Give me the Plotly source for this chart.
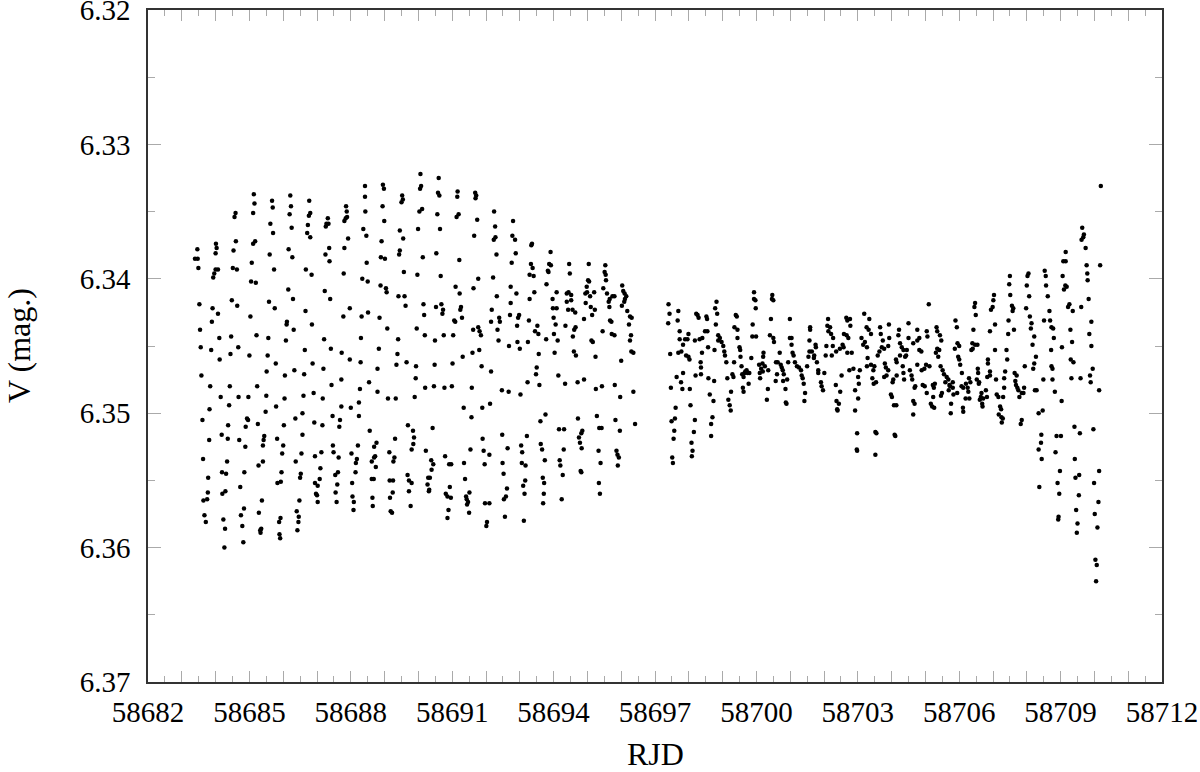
import plotly.graph_objects as go

# Light curve: time in days after RJD 58682, V magnitude.
RJD0 = 58682

# first run, part 1
days_a1 = [
    6.42, 6.95, 6.98, 3.13, 4.21, 6.42, 7.52, 7.54, 7.50, 3.67,
    3.69, 4.77, 3.15, 4.23, 5.86, 6.94, 5.88, 6.43, 2.59, 2.56,
    3.11, 4.19, 4.80, 4.76, 5.32, 5.85, 5.89, 5.81, 6.99, 3.62,
    4.25, 4.73, 5.28, 5.34, 5.26, 6.37, 7.45, 3.70, 4.71, 6.46,
    4.80, 5.92, 7.55, 2.60, 3.17, 3.11, 2.01, 2.03, 6.91, 5.36,
    5.81, 1.46, 2.53, 4.16, 7.45, 7.43, 3.60, 2.00, 5.25, 4.27,
    6.89, 7.01, 1.39, 1.47, 5.37, 3.07, 6.47, 1.49, 2.00, 2.07,
    1.96, 2.51, 2.63, 3.73, 4.67, 4.84, 5.79, 7.57, 1.93, 3.05,
    3.19, 6.34, 6.50, 6.88, 7.04, 7.06, 4.15, 5.23, 4.29, 5.39,
    7.41, 7.59, 1.52, 1.91, 2.07, 2.48, 2.64, 3.58, 3.75, 4.66,
    7.62, 5.97, 5.78, 6.32, 6.51, 6.85, 3.03, 1.89, 4.11, 4.10,
    4.85, 7.08, 1.54, 4.31, 2.11, 2.46, 3.21, 3.56, 4.08, 5.21,
    6.30, 7.40, 1.56, 1.87, 2.67, 2.44, 3.00, 3.54, 4.64, 5.41,
    5.73, 6.83, 7.38, 2.12, 3.78, 4.87, 5.97, 6.29, 6.79, 7.35,
    7.65, 5.19, 3.51, 4.33, 4.62, 4.05, 1.58, 1.84, 2.42, 3.23,
    5.43, 5.72, 6.54, 6.27, 6.79, 2.15, 2.68, 2.97, 3.50, 4.04,
    4.60, 4.90, 5.17, 7.10, 7.33, 1.82, 2.40, 3.79, 3.48, 4.57,
    5.72, 6.00, 6.24, 6.24, 2.93, 2.96, 1.61, 4.36, 4.92, 5.16,
    5.46, 5.68, 5.66, 2.37, 2.89, 3.25, 4.02, 6.56, 2.18, 2.36,
    2.70, 2.88, 3.44, 3.42, 3.40, 3.82, 4.00, 4.57, 1.81, 7.31,
    6.76, 6.69, 6.21, 5.47, 1.63, 2.34, 3.27, 3.40, 3.97, 4.54,
    4.37, 4.94, 5.13, 5.49, 5.64, 6.02, 6.18, 6.15, 6.72, 6.69,
    6.62, 6.74, 7.14, 7.29, 7.26, 1.78, 2.19, 2.31, 2.85, 3.95,
    4.52, 4.50, 5.10, 5.62, 5.54, 6.14, 6.62, 6.68, 7.15, 7.25,
    7.68, 7.72, 1.77, 1.64, 1.75, 2.20, 2.29, 2.73, 3.37, 3.83,
    3.93, 4.94, 5.02, 5.08, 4.97, 5.00, 5.02, 4.48, 5.60, 5.55,
    5.58, 6.04, 6.05, 6.09, 6.08, 6.64, 6.65, 7.16, 7.24, 7.72,
    7.18, 7.22, 1.67, 1.71, 2.23, 2.28, 2.26, 2.75, 2.84, 2.79,
    2.82, 3.28, 3.32, 3.35, 3.33, 3.88, 3.92, 3.89, 3.91, 4.40,
    4.46, 4.45, 4.42, 7.69,
]
vmag_a1 = [
    6.3331, 6.3330, 6.3333, 6.3337, 6.3338, 6.3339, 6.3338, 6.3341, 6.3343, 6.3342,
    6.3347, 6.3342, 6.3344, 6.3346, 6.3346, 6.3346, 6.3350, 6.3350, 6.3351, 6.3354,
    6.3351, 6.3352, 6.3351, 6.3353, 6.3355, 6.3355, 6.3354, 6.3357, 6.3357, 6.3359,
    6.3362, 6.3360, 6.3359, 6.3359, 6.3361, 6.3363, 6.3364, 6.3366, 6.3366, 6.3368,
    6.3369, 6.3370, 6.3370, 6.3372, 6.3372, 6.3374, 6.3374, 6.3377, 6.3372, 6.3377,
    6.3377, 6.3378, 6.3379, 6.3378, 6.3379, 6.3382, 6.3382, 6.3381, 6.3382, 6.3384,
    6.3384, 6.3385, 6.3385, 6.3385, 6.3387, 6.3388, 6.3388, 6.3392, 6.3393, 6.3393,
    6.3396, 6.3392, 6.3393, 6.3393, 6.3393, 6.3397, 6.3396, 6.3395, 6.3399, 6.3402,
    6.3403, 6.3400, 6.3402, 6.3405, 6.3407, 6.3410, 6.3408, 6.3409, 6.3415, 6.3415,
    6.3413, 6.3413, 6.3419, 6.3422, 6.3426, 6.3416, 6.3420, 6.3417, 6.3422, 6.3424,
    6.3420, 6.3422, 6.3428, 6.3428, 6.3425, 6.3429, 6.3428, 6.3432, 6.3432, 6.3434,
    6.3434, 6.3437, 6.3438, 6.3438, 6.3444, 6.3443, 6.3442, 6.3444, 6.3446, 6.3445,
    6.3444, 6.3445, 6.3451, 6.3453, 6.3451, 6.3456, 6.3457, 6.3457, 6.3453, 6.3452,
    6.3455, 6.3452, 6.3456, 6.3460, 6.3463, 6.3463, 6.3460, 6.3462, 6.3467, 6.3464,
    6.3462, 6.3467, 6.3469, 6.3468, 6.3471, 6.3472, 6.3472, 6.3480, 6.3480, 6.3480,
    6.3479, 6.3475, 6.3477, 6.3482, 6.3484, 6.3488, 6.3488, 6.3488, 6.3487, 6.3489,
    6.3487, 6.3485, 6.3489, 6.3489, 6.3489, 6.3497, 6.3494, 6.3495, 6.3499, 6.3500,
    6.3495, 6.3496, 6.3492, 6.3502, 6.3504, 6.3505, 6.3505, 6.3504, 6.3507, 6.3509,
    6.3502, 6.3505, 6.3510, 6.3509, 6.3510, 6.3508, 6.3509, 6.3513, 6.3516, 6.3519,
    6.3520, 6.3525, 6.3517, 6.3520, 6.3524, 6.3519, 6.3524, 6.3516, 6.3520, 6.3519,
    6.3522, 6.3525, 6.3524, 6.3524, 6.3534, 6.3536, 6.3539, 6.3536, 6.3530, 6.3530,
    6.3536, 6.3532, 6.3529, 6.3529, 6.3533, 6.3530, 6.3534, 6.3537, 6.3532, 6.3533,
    6.3536, 6.3540, 6.3529, 6.3533, 6.3536, 6.3548, 6.3544, 6.3545, 6.3544, 6.3544,
    6.3545, 6.3548, 6.3541, 6.3544, 6.3546, 6.3544, 6.3549, 6.3549, 6.3550, 6.3550,
    6.3546, 6.3550, 6.3559, 6.3565, 6.3564, 6.3560, 6.3558, 6.3555, 6.3565, 6.3552,
    6.3551, 6.3552, 6.3554, 6.3549, 6.3560, 6.3561, 6.3566, 6.3565, 6.3553, 6.3559,
    6.3566, 6.3552, 6.3562, 6.3566, 6.3572, 6.3563, 6.3569, 6.3563, 6.3559, 6.3558,
    6.3573, 6.3574, 6.3576, 6.3581, 6.3579, 6.3586, 6.3600, 6.3576, 6.3571, 6.3584,
    6.3596, 6.3574, 6.3587, 6.3586, 6.3589, 6.3581, 6.3578, 6.3590, 6.3593, 6.3573,
    6.3577, 6.3581, 6.3587, 6.3509,
]

# first run, part 2
days_a2 = [
    8.06, 8.60, 8.05, 8.08, 8.58, 8.62, 9.16, 9.15, 9.68, 9.71,
    9.69, 8.03, 8.11, 8.56, 9.13, 9.19, 10.24, 9.74, 10.80, 7.99,
    8.64, 9.65, 10.27, 10.28, 10.23, 10.78, 10.86, 11.36, 11.34, 11.91,
    10.88, 8.13, 8.53, 9.21, 10.31, 10.76, 11.33, 11.38, 11.87, 11.92,
    12.46, 13.04, 13.53, 7.97, 8.66, 11.29, 11.41, 11.83, 11.85, 12.48,
    13.51, 13.54, 9.10, 9.63, 9.77, 10.21, 10.73, 11.79, 13.02, 13.05,
    13.55, 14.03, 13.47, 9.22, 10.32, 10.90, 11.43, 11.29, 12.09, 12.39,
    12.44, 12.52, 12.94, 12.99, 12.98, 13.20, 13.08, 13.58, 13.66, 13.63,
    13.74, 13.80, 14.06, 14.10, 14.11, 14.15, 14.09, 14.02, 11.97, 8.15,
    8.52, 8.68, 8.73, 9.26, 9.24, 10.73, 10.17, 10.39, 10.41, 10.98,
    10.95, 10.92, 10.71, 11.27, 11.52, 11.98, 12.09, 12.39, 12.43, 12.52,
    12.56, 12.64, 12.95, 13.10, 13.14, 13.22, 12.90, 13.65, 14.18, 14.26,
    14.31, 13.67, 13.71, 14.23, 8.17, 8.71, 9.06, 9.09, 9.29, 10.15,
    12.00, 12.06, 7.95, 8.19, 8.49, 8.75, 9.03, 9.62, 9.77, 9.81,
    9.85, 10.34, 10.37, 10.68, 10.93, 11.00, 11.24, 11.45, 11.55, 11.78,
    12.01, 12.12, 12.35, 12.57, 12.61, 12.65, 13.12, 13.16, 13.45, 13.72,
    13.80, 14.29, 14.26, 9.60, 9.80, 9.31, 11.56, 12.03, 12.60, 12.66,
    13.24, 14.00, 14.30, 14.36, 7.93, 8.48, 9.01, 9.87, 10.15, 11.50,
    11.48, 7.92, 8.20, 8.46, 8.77, 8.99, 9.58, 11.58, 11.23, 12.14,
    12.34, 12.71, 12.90, 13.25, 13.43, 13.81, 14.36, 7.89, 10.47, 10.67,
    11.02, 13.97, 9.34, 9.89, 10.12, 9.57, 11.61, 11.76, 12.72, 13.28,
    13.35, 13.42, 13.83, 13.96, 14.41, 8.42, 7.84, 7.87, 7.85, 7.80,
    8.22, 9.90, 10.48, 11.21, 12.16, 12.31, 12.85, 12.82, 12.75, 12.78,
    12.83, 9.54, 9.93, 10.10, 10.64, 11.04, 11.07, 11.62, 11.66, 12.30,
    13.33, 13.86, 13.89, 13.93, 8.79, 8.38, 8.44, 8.39, 8.91, 8.97,
    9.35, 9.96, 10.49, 10.52, 11.06, 11.17, 11.74, 12.18, 12.20, 12.27,
    12.80, 12.82, 13.39, 13.90, 7.80, 8.29, 8.34, 8.27, 8.32, 8.31,
    8.93, 8.81, 8.86, 8.96, 9.38, 9.51, 9.41, 9.43, 9.47, 9.44,
    9.50, 9.97, 10.10, 10.62, 10.59, 10.53, 11.16, 11.10, 11.14, 11.68,
    11.72, 11.71, 11.69, 12.24, 13.34, 13.37, 8.89, 8.86, 10.03, 10.01,
    10.56, 11.12, 7.77,
]
vmag_a2 = [
    6.3322, 6.3325, 6.3333, 6.3331, 6.3336, 6.3338, 6.3335, 6.3339, 6.3336, 6.3338,
    6.3340, 6.3350, 6.3348, 6.3352, 6.3354, 6.3352, 6.3350, 6.3356, 6.3357, 6.3363,
    6.3363, 6.3368, 6.3361, 6.3369, 6.3371, 6.3368, 6.3371, 6.3374, 6.3375, 6.3380,
    6.3381, 6.3384, 6.3381, 6.3386, 6.3382, 6.3388, 6.3389, 6.3392, 6.3389, 6.3390,
    6.3389, 6.3389, 6.3390, 6.3397, 6.3398, 6.3397, 6.3398, 6.3394, 6.3395, 6.3396,
    6.3395, 6.3397, 6.3406, 6.3407, 6.3400, 6.3399, 6.3406, 6.3404, 6.3401, 6.3402,
    6.3401, 6.3405, 6.3407, 6.3411, 6.3413, 6.3411, 6.3410, 6.3415, 6.3410, 6.3411,
    6.3410, 6.3412, 6.3411, 6.3410, 6.3406, 6.3410, 6.3413, 6.3411, 6.3415, 6.3417,
    6.3413, 6.3413, 6.3409, 6.3411, 6.3415, 6.3413, 6.3417, 6.3420, 6.3415, 6.3419,
    6.3421, 6.3419, 6.3423, 6.3421, 6.3423, 6.3418, 6.3423, 6.3429, 6.3432, 6.3427,
    6.3429, 6.3435, 6.3427, 6.3431, 6.3435, 6.3422, 6.3422, 6.3417, 6.3423, 6.3416,
    6.3423, 6.3425, 6.3418, 6.3421, 6.3427, 6.3423, 6.3430, 6.3421, 6.3424, 6.3428,
    6.3429, 6.3431, 6.3432, 6.3434, 6.3427, 6.3426, 6.3431, 6.3432, 6.3429, 6.3432,
    6.3429, 6.3434, 6.3437, 6.3442, 6.3446, 6.3442, 6.3442, 6.3438, 6.3436, 6.3439,
    6.3442, 6.3438, 6.3446, 6.3450, 6.3447, 6.3452, 6.3447, 6.3439, 6.3441, 6.3445,
    6.3441, 6.3446, 6.3435, 6.3443, 6.3438, 6.3436, 6.3446, 6.3447, 6.3439, 6.3441,
    6.3442, 6.3442, 6.3446, 6.3455, 6.3453, 6.3458, 6.3456, 6.3455, 6.3454, 6.3457,
    6.3458, 6.3461, 6.3454, 6.3455, 6.3465, 6.3464, 6.3463, 6.3465, 6.3469, 6.3466,
    6.3471, 6.3474, 6.3481, 6.3480, 6.3481, 6.3480, 6.3481, 6.3479, 6.3477, 6.3472,
    6.3478, 6.3477, 6.3475, 6.3482, 6.3480, 6.3479, 6.3484, 6.3488, 6.3483, 6.3484,
    6.3486, 6.3488, 6.3496, 6.3496, 6.3493, 6.3503, 6.3506, 6.3501, 6.3504, 6.3502,
    6.3511, 6.3511, 6.3505, 6.3513, 6.3508, 6.3511, 6.3513, 6.3518, 6.3523, 6.3527,
    6.3528, 6.3519, 6.3516, 6.3517, 6.3512, 6.3512, 6.3513, 6.3515, 6.3518, 6.3522,
    6.3526, 6.3527, 6.3528, 6.3531, 6.3526, 6.3524, 6.3529, 6.3523, 6.3527, 6.3527,
    6.3528, 6.3528, 6.3531, 6.3533, 6.3532, 6.3535, 6.3538, 6.3542, 6.3538, 6.3538,
    6.3537, 6.3538, 6.3537, 6.3545, 6.3537, 6.3539, 6.3535, 6.3535, 6.3539, 6.3546,
    6.3543, 6.3544, 6.3537, 6.3539, 6.3552, 6.3548, 6.3548, 6.3553, 6.3557, 6.3558,
    6.3555, 6.3560, 6.3562, 6.3563, 6.3549, 6.3559, 6.3562, 6.3564, 6.3566, 6.3568,
    6.3574, 6.3567, 6.3567, 6.3556, 6.3562, 6.3564, 6.3550, 6.3554, 6.3560, 6.3548,
    6.3552, 6.3560, 6.3567, 6.3564, 6.3552, 6.3560, 6.3572, 6.3578, 6.3581, 6.3584,
    6.3577, 6.3580, 6.3569,
]

# second run, part 1
days_b1 = [
    15.40, 15.43, 15.39, 15.69, 15.67, 15.73, 15.73, 15.89, 15.96, 15.99,
    15.83, 15.78, 15.69, 15.45, 15.92, 15.99, 16.02, 15.64, 15.83, 15.77,
    15.81, 15.47, 16.03, 16.05, 15.61, 15.49, 15.59, 15.57, 15.55, 15.51,
    15.53, 16.18, 16.15, 16.08, 16.11, 16.09, 16.26, 16.29, 16.22, 16.52,
    16.54, 16.18, 16.32, 16.40, 16.48, 16.55, 16.39, 16.57, 16.76, 16.35,
    16.36, 16.36, 16.20, 16.58, 16.75, 16.62, 16.73, 16.70, 16.66, 16.66,
    16.80, 16.78, 16.82, 16.84, 16.87, 16.92, 16.87, 16.97, 17.02, 17.05,
    17.07, 17.11, 17.14, 17.29, 17.32, 17.25, 17.17, 17.21, 17.24, 17.39,
    17.42, 17.35, 17.44, 17.44, 17.50, 17.52, 17.53, 17.34, 17.56, 17.58,
    17.62, 17.67, 17.71, 17.74, 17.65, 17.60, 17.62, 17.77, 17.79, 17.85,
    17.89, 17.88, 17.99, 17.93, 17.93, 17.97, 17.98, 18.47, 18.46, 18.50,
    18.43, 18.40, 18.50, 18.52, 18.08, 18.20, 18.21, 18.18, 18.14, 18.10,
    18.11, 18.19, 18.25, 18.35, 18.34, 18.31, 18.69, 18.63, 18.58, 18.72,
    18.75, 18.78, 18.81, 18.61, 18.57, 18.79, 18.91, 18.86, 18.87, 18.89,
    18.99, 19.04, 18.99, 19.04, 18.94, 19.07, 19.10, 19.14, 19.20, 19.26,
    19.32, 19.34, 19.37, 19.40, 19.44, 19.42, 19.50, 19.54, 19.57, 19.57,
    19.59, 19.59, 19.64, 19.70, 19.75, 19.76, 19.71, 19.79, 19.83, 19.83,
    19.91, 19.93, 19.97, 20.01, 20.05, 20.07, 20.12, 20.10, 20.18, 20.13,
    20.21, 20.27, 20.26, 20.23, 20.36, 20.47, 20.55, 20.58, 20.66, 20.69,
    20.77, 20.78, 20.59, 20.67, 20.72, 20.69, 20.82, 20.75, 20.87, 20.52,
    20.35, 20.48, 20.44, 20.39, 20.40, 20.37, 20.92, 21.01, 21.06, 21.03,
    21.01, 20.92, 21.19, 21.34, 21.26, 21.32, 21.39, 21.11, 21.21, 21.16,
    21.27, 21.29, 21.27, 21.39, 21.49, 21.46, 21.43, 21.54, 21.47, 20.98,
    20.97, 20.98, 21.52, 21.55, 21.52, 21.59, 21.64,
]
vmag_b1 = [
    6.3419, 6.3426, 6.3433, 6.3424, 6.3431, 6.3439, 6.3445, 6.3445, 6.3445, 6.3441,
    6.3449, 6.3454, 6.3455, 6.3456, 6.3457, 6.3458, 6.3460, 6.3473, 6.3470, 6.3477,
    6.3482, 6.3481, 6.3482, 6.3494, 6.3496, 6.3506, 6.3504, 6.3513, 6.3519, 6.3533,
    6.3537, 6.3505, 6.3514, 6.3522, 6.3528, 6.3532, 6.3427, 6.3429, 6.3426, 6.3428,
    6.3430, 6.3446, 6.3445, 6.3444, 6.3439, 6.3439, 6.3455, 6.3451, 6.3453, 6.3462,
    6.3466, 6.3471, 6.3472, 6.3474, 6.3476, 6.3486, 6.3491, 6.3503, 6.3508, 6.3517,
    6.3434, 6.3422, 6.3417, 6.3426, 6.3442, 6.3444, 6.3446, 6.3447, 6.3450, 6.3454,
    6.3457, 6.3462, 6.3474, 6.3471, 6.3473, 6.3484, 6.3490, 6.3494, 6.3498, 6.3427,
    6.3428, 6.3436, 6.3438, 6.3444, 6.3451, 6.3453, 6.3458, 6.3462, 6.3465, 6.3471,
    6.3473, 6.3469, 6.3468, 6.3470, 6.3470, 6.3481, 6.3484, 6.3478, 6.3470, 6.3459,
    6.3434, 6.3443, 6.3443, 6.3410, 6.3415, 6.3416, 6.3422, 6.3412, 6.3415, 6.3416,
    6.3430, 6.3442, 6.3444, 6.3447, 6.3464, 6.3458, 6.3455, 6.3463, 6.3467, 6.3470,
    6.3474, 6.3469, 6.3465, 6.3468, 6.3482, 6.3490, 6.3455, 6.3462, 6.3462, 6.3464,
    6.3466, 6.3468, 6.3471, 6.3471, 6.3476, 6.3476, 6.3475, 6.3482, 6.3492, 6.3493,
    6.3430, 6.3444, 6.3444, 6.3449, 6.3462, 6.3455, 6.3457, 6.3462, 6.3465, 6.3466,
    6.3468, 6.3472, 6.3474, 6.3478, 6.3485, 6.3491, 6.3465, 6.3458, 6.3454, 6.3446,
    6.3438, 6.3436, 6.3454, 6.3459, 6.3449, 6.3451, 6.3457, 6.3462, 6.3468, 6.3470,
    6.3477, 6.3480, 6.3483, 6.3470, 6.3457, 6.3450, 6.3430, 6.3435, 6.3436, 6.3439,
    6.3441, 6.3444, 6.3450, 6.3457, 6.3454, 6.3452, 6.3449, 6.3451, 6.3429, 6.3431,
    6.3430, 6.3435, 6.3441, 6.3442, 6.3444, 6.3455, 6.3455, 6.3468, 6.3467, 6.3472,
    6.3479, 6.3484, 6.3493, 6.3497, 6.3498, 6.3491, 6.3483, 6.3473, 6.3468, 6.3478,
    6.3489, 6.3498, 6.3426, 6.3430, 6.3436, 6.3438, 6.3441, 6.3444, 6.3447, 6.3449,
    6.3451, 6.3459, 6.3465, 6.3464, 6.3465, 6.3468, 6.3474, 6.3477, 6.3478, 6.3515,
    6.3527, 6.3528, 6.3514, 6.3515, 6.3531, 6.3457, 6.3454,
]

# second run, part 2
days_b2 = [
    21.66, 21.92, 21.68, 21.74, 21.71, 21.90, 21.93, 21.78, 22.22, 22.20,
    22.25, 22.30, 22.35, 22.45, 22.25, 22.40, 22.43, 22.13, 22.15, 21.80,
    21.83, 21.78, 21.85, 21.90, 22.05, 22.03, 22.15, 22.33, 22.35, 22.37,
    22.50, 22.50, 22.64, 22.76, 22.82, 22.76, 22.82, 22.88, 22.76, 22.89,
    22.97, 23.02, 23.12, 22.54, 22.59, 22.61, 22.70, 22.68, 22.92, 22.98,
    23.04, 22.64, 22.68, 22.64, 21.98, 22.01, 22.07, 22.14, 22.09, 22.11,
    23.10, 23.04, 23.06, 23.33, 23.35, 23.43, 23.47, 23.35, 23.41, 23.31,
    23.38, 23.22, 23.25, 23.23, 23.16, 23.20, 23.26, 23.28, 23.45, 23.51,
    23.55, 23.63, 23.68, 23.59, 23.71, 23.73, 23.49, 23.46, 23.69, 23.81,
    23.81, 23.83, 23.76, 23.75, 23.89, 23.93, 23.87, 23.95, 24.00, 23.97,
    24.00, 24.03, 24.08, 24.07, 24.12, 24.20, 24.25, 24.27, 24.19, 24.30,
    24.33, 24.29, 24.11, 24.12, 23.94, 24.47, 24.45, 24.49, 24.42, 24.39,
    24.47, 24.54, 24.36, 24.40, 24.55, 24.56, 24.52, 24.58, 24.59, 24.66,
    24.64, 24.61, 24.68, 24.69, 24.79, 24.82, 24.71, 24.85, 24.85, 24.91,
    24.83, 24.91, 25.03, 25.01, 24.94, 24.99, 25.06, 24.91, 25.06, 25.09,
    25.11, 25.16, 25.30, 25.33, 25.33, 25.36, 25.21, 25.24, 25.17, 25.25,
    25.29, 25.26, 25.40, 25.42, 25.45, 25.46, 25.50, 25.48, 25.51, 25.56,
    25.60, 25.58, 25.62, 25.64, 25.70, 25.66, 25.68, 25.72, 25.75, 25.78,
    25.85, 25.90, 25.92, 25.85, 25.82, 25.94, 25.98, 26.02, 26.05, 26.00,
    26.07, 26.09, 26.14, 26.12, 26.22, 26.17, 26.27, 26.22, 26.19, 26.24,
    26.29, 26.35, 26.47, 26.49, 26.43, 26.42, 26.35, 26.53, 26.56, 26.57,
    26.62, 26.67, 26.69, 26.51, 26.73, 26.78, 26.80, 26.72, 26.73, 26.76,
    26.76, 26.83, 27.03, 26.88, 27.01, 26.85, 27.06, 27.14, 27.18, 27.10,
    27.26, 27.22, 27.36, 27.29, 27.34, 27.04, 27.30, 27.38, 27.32, 27.59,
    27.61, 27.08, 27.15, 27.77, 27.79, 27.80, 27.83, 27.91, 27.85, 27.91,
    27.95, 27.87, 27.89, 28.14, 28.17, 27.41, 27.57, 27.97, 26.44, 27.42,
]
vmag_b2 = [
    6.3436, 6.3434, 6.3441, 6.3446, 6.3451, 6.3450, 6.3444, 6.3452, 6.3438, 6.3442,
    6.3448, 6.3451, 6.3453, 6.3453, 6.3457, 6.3458, 6.3457, 6.3460, 6.3462, 6.3463,
    6.3466, 6.3473, 6.3472, 6.3468, 6.3475, 6.3477, 6.3472, 6.3465, 6.3470, 6.3475,
    6.3433, 6.3444, 6.3448, 6.3446, 6.3444, 6.3438, 6.3453, 6.3454, 6.3464, 6.3468,
    6.3467, 6.3464, 6.3465, 6.3468, 6.3472, 6.3475, 6.3480, 6.3481, 6.3479, 6.3480,
    6.3485, 6.3491, 6.3493, 6.3501, 6.3486, 6.3488, 6.3494, 6.3494, 6.3516, 6.3517,
    6.3419, 6.3439, 6.3443, 6.3436, 6.3439, 6.3442, 6.3446, 6.3452, 6.3453, 6.3455,
    6.3458, 6.3479, 6.3481, 6.3488, 6.3493, 6.3495, 6.3496, 6.3478, 6.3465, 6.3468,
    6.3471, 6.3473, 6.3475, 6.3477, 6.3479, 6.3480, 6.3485, 6.3487, 6.3483, 6.3477,
    6.3481, 6.3486, 6.3493, 6.3500, 6.3431, 6.3436, 6.3452, 6.3448, 6.3450, 6.3458,
    6.3460, 6.3464, 6.3470, 6.3480, 6.3481, 6.3478, 6.3481, 6.3484, 6.3489, 6.3489,
    6.3477, 6.3474, 6.3496, 6.3499, 6.3485, 6.3418, 6.3421, 6.3427, 6.3438, 6.3448,
    6.3449, 6.3449, 6.3453, 6.3452, 6.3467, 6.3470, 6.3475, 6.3478, 6.3477, 6.3485,
    6.3488, 6.3490, 6.3493, 6.3495, 6.3483, 6.3488, 6.3489, 6.3460, 6.3463, 6.3469,
    6.3473, 6.3472, 6.3412, 6.3416, 6.3423, 6.3421, 6.3434, 6.3439, 6.3453, 6.3475,
    6.3486, 6.3488, 6.3488, 6.3481, 6.3474, 6.3469, 6.3495, 6.3497, 6.3501, 6.3503,
    6.3504, 6.3507, 6.3453, 6.3460, 6.3441, 6.3431, 6.3398, 6.3404, 6.3412, 6.3420,
    6.3422, 6.3424, 6.3438, 6.3470, 6.3472, 6.3476, 6.3479, 6.3481, 6.3483, 6.3488,
    6.3485, 6.3485, 6.3481, 6.3505, 6.3508, 6.3465, 6.3422, 6.3398, 6.3396, 6.3405,
    6.3413, 6.3428, 6.3433, 6.3437, 6.3443, 6.3449, 6.3458, 6.3463, 6.3467, 6.3483,
    6.3483, 6.3500, 6.3498, 6.3475, 6.3516, 6.3522, 6.3527, 6.3394, 6.3398, 6.3405,
    6.3413, 6.3424, 6.3431, 6.3431, 6.3436, 6.3437, 6.3444, 6.3453, 6.3465, 6.3467,
    6.3475, 6.3484, 6.3491, 6.3517, 6.3517, 6.3529, 6.3398, 6.3405, 6.3406, 6.3408,
    6.3419, 6.3421, 6.3424, 6.3438, 6.3447, 6.3451, 6.3460, 6.3462, 6.3474, 6.3474,
    6.3421, 6.3387, 6.3387, 6.3390, 6.3396, 6.3401, 6.3415, 6.3432, 6.3441, 6.3450,
    6.3467, 6.3472, 6.3477, 6.3483, 6.3390, 6.3510, 6.3515, 6.3512, 6.3534, 6.3534,
]

# second run, end (wide swings)
days_b3 = [
    28.19, 27.64, 27.69, 27.67, 27.62, 27.74, 27.15, 26.98, 27.55, 27.44,
    28.14, 26.91, 27.99, 26.37, 26.96, 27.54, 28.12, 27.46, 28.01, 26.94,
    26.93, 27.50, 28.09, 27.48, 28.03, 28.07, 28.05,
]
vmag_b3 = [
    6.3331, 6.3362, 6.3367, 6.3369, 6.3371, 6.3377, 6.3380, 6.3543, 6.3546, 6.3548,
    6.3543, 6.3552, 6.3552, 6.3555, 6.3560, 6.3561, 6.3566, 6.3572, 6.3575, 6.3577,
    6.3579, 6.3582, 6.3585, 6.3589, 6.3609, 6.3613, 6.3625,
]

x_ticks = list(range(58682, 58713))
x_labels = [str(v) if (v - 58682) % 3 == 0 else "" for v in x_ticks]
y_ticks = [6.32, 6.33, 6.34, 6.35, 6.36, 6.37]
y_labels = ["6.32", "6.33", "6.34", "6.35", "6.36", "6.37"]

days = days_a1 + days_a2 + days_b1 + days_b2 + days_b3
vmag = vmag_a1 + vmag_a2 + vmag_b1 + vmag_b2 + vmag_b3
assert len(days) == len(vmag)
rjd = [RJD0 + d for d in days]

fig = go.Figure(go.Scatter(
    x=rjd, y=vmag, mode="markers",
    marker={"size": 4.5, "color": "black"},
    hoverinfo="skip",
))

axis_style = {
    "showline": True,
    "linecolor": "#333333",
    "linewidth": 1.5,
    "mirror": "ticks",
    "ticks": "inside",
    "tickcolor": "#aaaaaa",
    "tickwidth": 1,
    "showgrid": False,
    "zeroline": False,
    "tickfont": {"size": 29},
    "automargin": False,
    "tickmode": "array",
    "ticklabeloverflow": "allow",
}

fig.update_layout(
    width=1200, height=772,
    margin={"l": 148, "r": 38, "t": 10, "b": 90},
    plot_bgcolor="white",
    paper_bgcolor="white",
    font={"family": "Liberation Serif, Times New Roman, serif", "color": "black", "size": 29},
    showlegend=False,
    xaxis={
        **axis_style,
        "range": [58682, 58712],
        "tickvals": x_ticks,
        "ticktext": x_labels,
        "ticklen": 11,
        "ticklabelstandoff": 3,
        "minor": {"dtick": 0.5, "tick0": 58682, "ticks": "inside", "ticklen": 6,
                  "tickcolor": "#aaaaaa", "showgrid": False},
    },
    yaxis={
        **axis_style,
        "range": [6.37, 6.32],
        "tickvals": y_ticks,
        "ticktext": y_labels,
        "ticklen": 13,
        "ticklabelstandoff": 10,
        "minor": {"tickvals": [6.325, 6.335, 6.345, 6.355, 6.365], "ticks": "inside",
                  "ticklen": 7, "tickcolor": "#aaaaaa", "showgrid": False},
    },
    annotations=[
        {"text": "RJD", "xref": "paper", "yref": "paper", "x": 0.5, "y": 0,
         "xanchor": "center", "yanchor": "middle", "yshift": -72,
         "showarrow": False, "font": {"size": 32}},
        {"text": "V (mag.)", "xref": "paper", "yref": "paper", "x": 0, "y": 0.5,
         "xanchor": "center", "yanchor": "middle", "xshift": -129, "textangle": -90,
         "showarrow": False, "font": {"size": 32}},
    ],
)

# the page has a default 8px body margin; drop it so the figure sits at (0, 0)
fig.write_html("out.html", config={"displayModeBar": False},
               post_script="document.body.style.margin = '0';")
